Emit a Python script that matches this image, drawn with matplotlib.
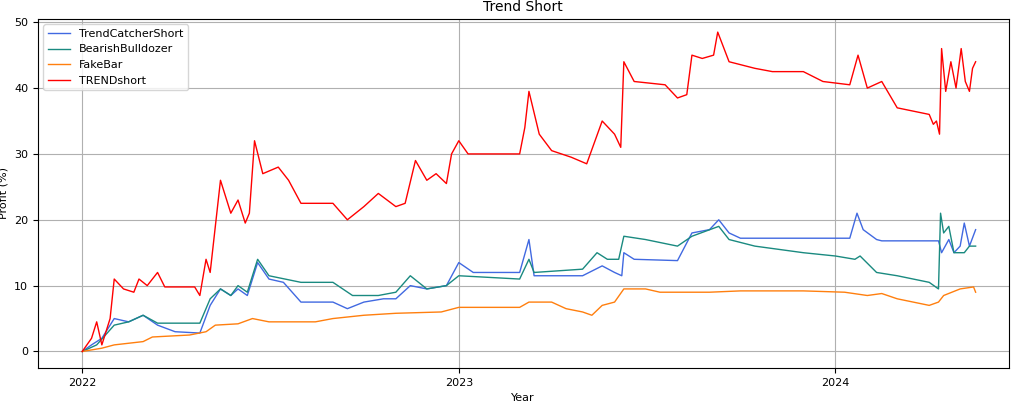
import pandas as pd
import matplotlib
matplotlib.use("Agg")
import matplotlib.pyplot as plt
import matplotlib.dates as mdates

plt.rcParams["font.size"] = 8

# (date, profit %) key points
red_dates = ["2022-01-01", "2022-01-10", "2022-01-15", "2022-01-20", "2022-01-28", "2022-02-01", "2022-02-10",
             "2022-02-20", "2022-02-25", "2022-03-05", "2022-03-15", "2022-03-22", "2022-04-20", "2022-04-25",
             "2022-05-01", "2022-05-05", "2022-05-10", "2022-05-15", "2022-05-25", "2022-06-01", "2022-06-08",
             "2022-06-12", "2022-06-17", "2022-06-25", "2022-07-10", "2022-07-20", "2022-08-01", "2022-09-01",
             "2022-09-15", "2022-10-01", "2022-10-15", "2022-11-01", "2022-11-10", "2022-11-20", "2022-12-01",
             "2022-12-10", "2022-12-20", "2022-12-25", "2023-01-01", "2023-01-10", "2023-03-01", "2023-03-06",
             "2023-03-10", "2023-03-20", "2023-04-01", "2023-04-20", "2023-05-05", "2023-05-20", "2023-06-01",
             "2023-06-07", "2023-06-10", "2023-06-20", "2023-07-20", "2023-08-01", "2023-08-10", "2023-08-15",
             "2023-08-25", "2023-09-05", "2023-09-09", "2023-09-20", "2023-10-15", "2023-11-01", "2023-12-01",
             "2023-12-20", "2024-01-15", "2024-01-23", "2024-02-01", "2024-02-15", "2024-03-01", "2024-04-01",
             "2024-04-05", "2024-04-08", "2024-04-11", "2024-04-13", "2024-04-17", "2024-04-22", "2024-04-27",
             "2024-05-02", "2024-05-06", "2024-05-10", "2024-05-13", "2024-05-16"]
red_vals = [0, 2, 4.5, 1, 5, 11, 9.5, 9, 11, 10, 12, 9.8, 9.8, 8.5, 14, 12, 19, 26, 21, 23, 19.5, 21,
            32, 27, 28, 26, 22.5, 22.5, 20, 22, 24, 22, 22.5, 29, 26, 27, 25.5, 30, 32, 30, 30, 34,
            39.5, 33, 30.5, 29.5, 28.5, 35, 33, 31, 44, 41, 40.5, 38.5, 39, 45, 44.5, 45, 48.5, 44, 43,
            42.5, 42.5, 41, 40.5, 45, 40, 41, 37, 36, 34.5, 35, 33, 46, 39.5, 44, 40, 46, 41, 39.5, 43, 44]

blue_dates = ["2022-01-01", "2022-01-10", "2022-01-20", "2022-02-01", "2022-02-15", "2022-03-01", "2022-03-15",
              "2022-04-01", "2022-04-25", "2022-05-05", "2022-05-15", "2022-05-25", "2022-06-01", "2022-06-10",
              "2022-06-20", "2022-07-01", "2022-07-15", "2022-08-01", "2022-09-01", "2022-09-15", "2022-10-01",
              "2022-10-20", "2022-11-01", "2022-11-15", "2022-12-01", "2022-12-20", "2023-01-01", "2023-01-15",
              "2023-03-01", "2023-03-10", "2023-03-15", "2023-05-01", "2023-05-20", "2023-06-01", "2023-06-08",
              "2023-06-10", "2023-06-20", "2023-08-01", "2023-08-15", "2023-09-01", "2023-09-10", "2023-09-20",
              "2023-10-01", "2024-01-15", "2024-01-22", "2024-01-28", "2024-02-10", "2024-02-15", "2024-04-10",
              "2024-04-13", "2024-04-20", "2024-04-25", "2024-05-01", "2024-05-05", "2024-05-10", "2024-05-16"]
blue_vals = [0, 1, 2, 5, 4.5, 5.5, 4, 3, 2.8, 7, 9.5, 8.5, 9.5, 8.5, 13.5, 11, 10.5, 7.5, 7.5, 6.5, 7.5,
             8, 8, 10, 9.5, 10, 13.5, 12, 12, 17, 11.5, 11.5, 13, 12, 11.5, 15, 14, 13.8, 18, 18.5, 20,
             18, 17.2, 17.2, 21, 18.5, 17, 16.8, 16.8, 15, 17, 15, 16, 19.5, 16, 18.5]

teal_dates = ["2022-01-01", "2022-01-15", "2022-02-01", "2022-02-15", "2022-03-01", "2022-03-15", "2022-04-25",
              "2022-05-05", "2022-05-15", "2022-05-25", "2022-06-01", "2022-06-10", "2022-06-20", "2022-07-01",
              "2022-08-01", "2022-09-01", "2022-09-20", "2022-10-15", "2022-11-01", "2022-11-15", "2022-12-01",
              "2022-12-20", "2023-01-01", "2023-03-01", "2023-03-10", "2023-03-15", "2023-05-01", "2023-05-15",
              "2023-05-25", "2023-06-05", "2023-06-10", "2023-07-01", "2023-08-01", "2023-08-15", "2023-09-10",
              "2023-09-20", "2023-10-15", "2023-12-01", "2024-01-01", "2024-01-20", "2024-01-25", "2024-02-10",
              "2024-03-01", "2024-04-01", "2024-04-10", "2024-04-12", "2024-04-15", "2024-04-20", "2024-04-25",
              "2024-05-05", "2024-05-10", "2024-05-16"]
teal_vals = [0, 1, 4, 4.5, 5.5, 4.3, 4.3, 8, 9.5, 8.5, 10, 9, 14, 11.5, 10.5, 10.5, 8.5, 8.5, 9, 11.5, 9.5,
             10, 11.5, 11, 14, 12, 12.5, 15, 14, 14, 17.5, 17, 16, 17.5, 19, 17, 16, 15, 14.5, 14, 14.5, 12,
             11.5, 10.5, 9.5, 21, 18, 19, 15, 15, 16, 16]

orange_dates = ["2022-01-01", "2022-01-20", "2022-02-01", "2022-03-01", "2022-03-10", "2022-04-15", "2022-05-01",
                "2022-05-10", "2022-06-01", "2022-06-15", "2022-07-01", "2022-08-15", "2022-09-01", "2022-10-01",
                "2022-11-01", "2022-12-15", "2023-01-01", "2023-03-01", "2023-03-10", "2023-04-01", "2023-04-15",
                "2023-05-01", "2023-05-10", "2023-05-20", "2023-06-01", "2023-06-10", "2023-07-01", "2023-07-15",
                "2023-09-01", "2023-10-01", "2023-12-01", "2024-01-10", "2024-02-01", "2024-02-15", "2024-03-01",
                "2024-04-01", "2024-04-10", "2024-04-15", "2024-05-01", "2024-05-14", "2024-05-16"]
orange_vals = [0, 0.5, 1, 1.5, 2.2, 2.5, 3, 4, 4.2, 5, 4.5, 4.5, 5, 5.5, 5.8, 6, 6.7, 6.7, 7.5, 7.5, 6.5,
               6, 5.5, 7, 7.5, 9.5, 9.5, 9, 9, 9.2, 9.2, 9, 8.5, 8.8, 8, 7, 7.5, 8.5, 9.5, 9.8, 9]

fig, ax = plt.subplots(figsize=(10.24, 4.03), dpi=100)
ax.plot(pd.to_datetime(blue_dates), blue_vals, color="royalblue", lw=1, label="TrendCatcherShort")
ax.plot(pd.to_datetime(teal_dates), teal_vals, color="#1a8a80", lw=1, label="BearishBulldozer")
ax.plot(pd.to_datetime(orange_dates), orange_vals, color="tab:orange", lw=1, label="FakeBar")
ax.plot(pd.to_datetime(red_dates), red_vals, color="red", lw=1, label="TRENDshort")

ax.xaxis.set_major_locator(mdates.YearLocator())
ax.xaxis.set_major_formatter(mdates.DateFormatter("%Y"))
ax.set_xlim(pd.Timestamp("2021-11-19"), pd.Timestamp("2024-06-17"))
ax.set_ylim(-2.5, 50.5)
ax.grid(True)
ax.set_xlabel("Year")
ax.set_ylabel("Profit (%)")
ax.set_title("Trend Short", fontsize=10)
ax.legend(loc="upper left")
plt.subplots_adjust(left=0.037, right=0.985, top=0.953, bottom=0.087)
plt.savefig("out.png")
